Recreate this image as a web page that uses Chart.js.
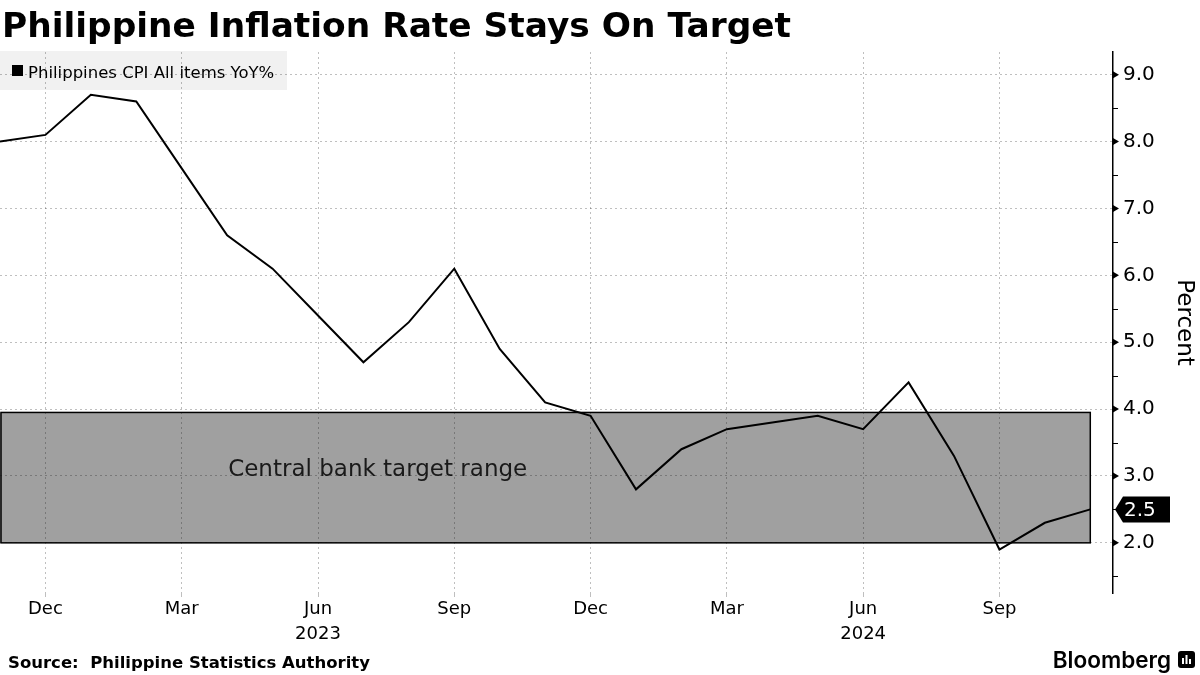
<!DOCTYPE html>
<html>
<head>
<meta charset="utf-8">
<title>Philippine Inflation Rate Stays On Target</title>
<script src="https://cdn.jsdelivr.net/npm/chart.js@4/dist/chart.umd.min.js"></script>
<style>
  body { margin: 0; background: #fff; }
  canvas { display: block; }
</style>
</head>
<body>
<canvas id="grafico" width="1200" height="675"></canvas>
<script>
// monthly, Nov 2022 .. Nov 2024
var meses = ['2022-11', '2022-12', '2023-01', '2023-02', '2023-03', '2023-04', '2023-05', '2023-06',
    '2023-07', '2023-08', '2023-09', '2023-10', '2023-11', '2023-12', '2024-01', '2024-02', '2024-03',
    '2024-04', '2024-05', '2024-06', '2024-07', '2024-08', '2024-09', '2024-10', '2024-11'];
var cpi = [8.0, 8.1, 8.7, 8.6, 7.6, 6.6, 6.1, 5.4, 4.7, 5.3, 6.1, 4.9, 4.1, 3.9,
    2.8, 3.4, 3.7, 3.8, 3.9, 3.7, 4.4, 3.3, 1.9, 2.3, 2.5];

var xTicks = [1, 4, 7, 10, 13, 16, 19, 22];
var xTickLabels = ['Dec', 'Mar', 'Jun', 'Sep', 'Dec', 'Mar', 'Jun', 'Sep'];
var yearLabels = { 7: '2023', 19: '2024' };

var yTicks = [2, 3, 4, 5, 6, 7, 8, 9];
var yMinorTicks = [1.5, 2.5, 3.5, 4.5, 5.5, 6.5, 7.5, 8.5];
var targetRange = [2.0, 3.95];

var puntos = meses.map(function (m, i) { return { x: i, y: cpi[i] }; });

var fuente = '"DejaVu Sans", sans-serif';
var gridColor = 'rgba(0,0,0,0.25)';

var decoracion = {
    id: 'decoracion',
    beforeDraw: function (chart) {
        var ctx = chart.ctx, x = chart.scales.x, y = chart.scales.y;
        ctx.save();
        // legend box
        ctx.fillStyle = '#f1f1f1';
        ctx.fillRect(0, 51, 287, 39);

        // target band
        var x0 = x.getPixelForValue(0), x1 = x.getPixelForValue(cpi.length - 1);
        var yTop = y.getPixelForValue(targetRange[1]), yBot = y.getPixelForValue(targetRange[0]);
        ctx.fillStyle = '#a0a0a0';
        ctx.fillRect(x0, yTop, x1 - x0, yBot - yTop);
        ctx.strokeStyle = '#000';
        ctx.lineWidth = 1.5;
        ctx.strokeRect(x0 + 1, yTop, x1 - x0 - 1, yBot - yTop);

        ctx.fillStyle = '#1a1a1a';
        ctx.font = '23px ' + fuente;
        ctx.textBaseline = 'alphabetic';
        ctx.fillText('Central bank target range', x.getPixelForValue(5) + 1, y.getPixelForValue(3));
        ctx.restore();
    },
    afterDraw: function (chart) {
        var ctx = chart.ctx, y = chart.scales.y;
        var axisX = chart.chartArea.right;
        ctx.save();

        // title
        ctx.fillStyle = '#000';
        ctx.font = 'bold 34.4px ' + fuente;
        ctx.textBaseline = 'alphabetic';
        ctx.fillText('Philippine Inflation Rate Stays On Target', 2, 37);

        // legend
        ctx.fillRect(12, 65, 11, 11);
        ctx.font = '16.5px ' + fuente;
        ctx.fillText('Philippines CPI All items YoY%', 28, 78);

        // major tick arrows
        yTicks.forEach(function (v) {
            var py = y.getPixelForValue(v);
            ctx.beginPath();
            ctx.moveTo(axisX, py - 3.5);
            ctx.lineTo(axisX + 6, py);
            ctx.lineTo(axisX, py + 3.5);
            ctx.closePath();
            ctx.fill();
        });
        // minor ticks
        ctx.strokeStyle = '#000';
        ctx.lineWidth = 1;
        yMinorTicks.forEach(function (v) {
            var py = Math.round(y.getPixelForValue(v)) + 0.5;
            ctx.beginPath();
            ctx.moveTo(axisX, py);
            ctx.lineTo(axisX + 5, py);
            ctx.stroke();
        });

        // last value tag
        var ultimo = cpi[cpi.length - 1];
        var ty = y.getPixelForValue(ultimo);
        ctx.beginPath();
        ctx.moveTo(axisX + 2, ty);
        ctx.lineTo(axisX + 10, ty - 13);
        ctx.lineTo(1170, ty - 13);
        ctx.lineTo(1170, ty + 13);
        ctx.lineTo(axisX + 10, ty + 13);
        ctx.closePath();
        ctx.fill();
        ctx.fillStyle = '#fff';
        ctx.font = '20px ' + fuente;
        ctx.textBaseline = 'middle';
        ctx.fillText(ultimo.toFixed(1), 1124, ty + 1);

        // source
        ctx.fillStyle = '#000';
        ctx.textBaseline = 'alphabetic';
        ctx.font = 'bold 16.5px ' + fuente;
        ctx.fillText('Source:  Philippine Statistics Authority', 8, 668);

        // Bloomberg logo
        ctx.font = '600 22.5px Inter, sans-serif';
        ctx.textAlign = 'right';
        ctx.fillText('Bloomberg', 1171, 668);
        ctx.beginPath();
        ctx.roundRect(1178, 651, 17, 17, 3);
        ctx.fill();
        ctx.fillStyle = '#fff';
        [[1182, 6], [1185.5, 9], [1189, 5]].forEach(function (b) {
            ctx.fillRect(b[0], 664 - b[1], 2, b[1]);
        });
        ctx.restore();
    }
};

var ctx1 = document.getElementById('grafico').getContext('2d');
window.miGrafico = new Chart(ctx1, {
    type: 'line',
    data: {
        datasets: [{
            label: 'Philippines CPI All items YoY%',
            data: puntos,
            borderColor: '#000',
            borderWidth: 2,
            pointRadius: 0,
            tension: 0,
            fill: false
        }]
    },
    options: {
        responsive: false,
        devicePixelRatio: 1,
        animation: false,
        layout: { padding: { top: 52, left: 0, right: 0, bottom: 0 } },
        plugins: {
            legend: { display: false },
            title: { display: false },
            tooltip: { enabled: false }
        },
        scales: {
            x: {
                type: 'linear',
                min: 0,
                max: 24.5,
                afterBuildTicks: function (scale) {
                    scale.ticks = xTicks.map(function (v) { return { value: v }; });
                },
                afterFit: function (scale) { scale.height = 82; },
                ticks: {
                    autoSkip: false,
                    maxRotation: 0,
                    padding: 0,
                    color: '#000',
                    font: { family: fuente, size: 18, lineHeight: 1.39 },
                    callback: function (value) {
                        var i = xTicks.indexOf(value);
                        var etiqueta = xTickLabels[i];
                        return yearLabels[value] ? [etiqueta, yearLabels[value]] : etiqueta;
                    }
                },
                grid: {
                    color: gridColor,
                    lineWidth: 1,
                    drawTicks: true,
                    tickLength: 4,
                    tickColor: gridColor
                },
                border: { display: false, dash: [2, 3] }
            },
            y: {
                position: 'right',
                min: 1.25,
                max: 9.34,
                afterBuildTicks: function (scale) {
                    scale.ticks = yTicks.map(function (v) { return { value: v }; });
                },
                afterFit: function (scale) { scale.width = 87; },
                ticks: {
                    padding: 10,
                    color: '#000',
                    font: { family: fuente, size: 20 },
                    callback: function (value) { return value.toFixed(1); }
                },
                grid: {
                    color: gridColor,
                    lineWidth: 1,
                    drawTicks: false
                },
                border: { display: true, color: '#000', width: 1.5, dash: [2, 3] },
                title: {
                    display: true,
                    text: 'Percent',
                    color: '#000',
                    font: { family: fuente, size: 23 },
                    padding: { top: 2, bottom: 0 }
                }
            }
        }
    },
    plugins: [decoracion]
});
</script>
</body>
</html>
